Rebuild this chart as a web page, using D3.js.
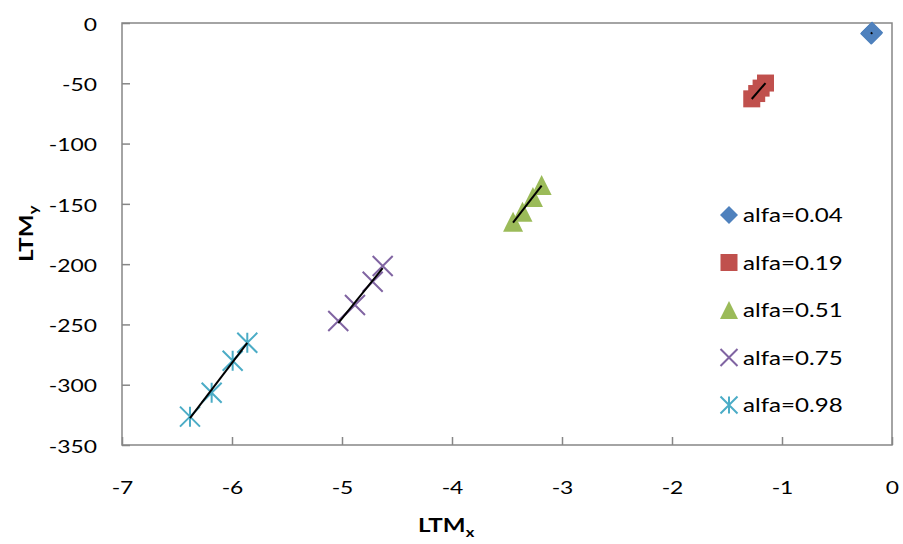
<!DOCTYPE html>
<html>
<head>
<meta charset="utf-8">
<script src="https://cdn.jsdelivr.net/npm/d3@7"></script>
<style>
html,body{margin:0;padding:0;background:#fff;}
svg{display:block;}
text{font-family:Lato,"Open Sans",sans-serif;fill:#000;}
</style>
</head>
<body>
<svg id="chart" width="903" height="544"></svg>
<script>
// ---- data ----
const seriesNames = ["alfa=0.04","alfa=0.19","alfa=0.51","alfa=0.75","alfa=0.98"];
const s004 = [[-0.190,-9.0],[-0.187,-8.6],[-0.184,-8.2],[-0.181,-7.8]];
const s019 = [[-1.275,-62.9],[-1.230,-58.5],[-1.190,-54.0],[-1.150,-49.8]];
const s051 = [[-3.445,-164.8],[-3.359,-156.5],[-3.264,-144.3],[-3.185,-134.4]];
const s075 = [[-5.034,-247.2],[-4.882,-233.9],[-4.721,-214.6],[-4.630,-201.5]];
const s098 = [[-6.382,-326.5],[-6.185,-306.6],[-5.994,-280.1],[-5.861,-265.2]];
const xTicks = [-7,-6,-5,-4,-3,-2,-1,0];
const yTicks = [0,-50,-100,-150,-200,-250,-300,-350];
const colors = ["#4F81BD","#C0504D","#9BBB59","#8064A2","#4BACC6"];
const shapes = ["diamond","square","triangle","x","star"];

const allSeries = [s004,s019,s051,s075,s098];
const SX = 1.27; // horizontal text stretch of the reference

const svg = d3.select("#chart");
const L = 122, R = 892, T = 23, B = 445;
const x = d3.scaleLinear().domain([-7,0]).range([L,R]);
const y = d3.scaleLinear().domain([-350,0]).range([B,T]);

const axisColor = "#868686";
const fmt = d => String(d);

// bottom axis
const gx = svg.append("g").attr("transform",`translate(0,${B})`)
  .call(d3.axisBottom(x).tickValues(xTicks).tickSizeInner(-8).tickSizeOuter(0).tickFormat(fmt));
gx.select(".domain").remove();
gx.selectAll("line").attr("stroke",axisColor).attr("stroke-width",1.5);
gx.selectAll("text").attr("y",49).attr("dy",0).attr("font-size",18)
  .attr("font-family","Lato").attr("transform",`scale(${SX},1)`).style("fill","#000");

// left axis
const gy = svg.append("g").attr("transform",`translate(${L},0)`)
  .call(d3.axisLeft(y).tickValues(yTicks).tickSizeInner(-8).tickSizeOuter(0).tickFormat(fmt));
gy.select(".domain").remove();
gy.selectAll("line").attr("stroke",axisColor).attr("stroke-width",1.5);
gy.selectAll("text").attr("x",-25/SX).attr("dy","0.4em").attr("font-size",18)
  .attr("font-family","Lato").attr("transform",`scale(${SX},1)`).style("fill","#000");

// plot border
svg.append("rect").attr("x",L).attr("y",T).attr("width",R-L).attr("height",B-T)
  .attr("fill","none").attr("stroke",axisColor).attr("stroke-width",1.5);

// marker drawing
function drawMarker(g, shape, color, s){
  const h = s/2;
  if(shape==="diamond"){
    g.append("path").attr("d",`M0,${-h}L${h},0L0,${h}L${-h},0Z`).attr("fill",color);
  } else if(shape==="square"){
    g.append("rect").attr("x",-h).attr("y",-h).attr("width",s).attr("height",s).attr("fill",color);
  } else if(shape==="triangle"){
    g.append("path").attr("d",`M0,${-h}L${h},${h}L${-h},${h}Z`).attr("fill",color);
  } else if(shape==="x"){
    g.append("path").attr("d",`M${-h},${-h}L${h},${h}M${-h},${h}L${h},${-h}`)
      .attr("stroke",color).attr("stroke-width",2).attr("fill","none");
  } else if(shape==="star"){
    g.append("path").attr("d",`M${-h},${-h}L${h},${h}M${-h},${h}L${h},${-h}M0,${-h}L0,${h}`)
      .attr("stroke",color).attr("stroke-width",2).attr("fill","none");
  }
}
const plotSizes = [22,17,20,20,20];

allSeries.forEach((data,i)=>{
  const g = svg.append("g");
  data.forEach(d=>{
    const m = g.append("g").attr("transform",`translate(${x(d[0])},${y(d[1])})`);
    drawMarker(m, shapes[i], colors[i], plotSizes[i]);
  });
});

// linear trendlines
allSeries.forEach((data)=>{
  const mx = d3.mean(data,d=>d[0]), my = d3.mean(data,d=>d[1]);
  const sxy = d3.sum(data,d=>(d[0]-mx)*(d[1]-my));
  const sxx = d3.sum(data,d=>(d[0]-mx)*(d[0]-mx));
  const b = sxx ? sxy/sxx : 0, a = my - b*mx;
  const x0 = d3.min(data,d=>d[0]), x1 = d3.max(data,d=>d[0]);
  svg.append("line").attr("x1",x(x0)).attr("y1",y(a+b*x0)).attr("x2",x(x1)).attr("y2",y(a+b*x1))
    .attr("stroke","#000").attr("stroke-width",2);
});

// legend
const legY0 = 215, legDY = 47.5;
seriesNames.forEach((name,i)=>{
  const cy = legY0 + i*legDY;
  const m = svg.append("g").attr("transform",`translate(729,${cy})`);
  drawMarker(m, shapes[i], colors[i], [18,17,18,17,17][i]);
  svg.append("text").attr("transform",`translate(743,${cy+7}) scale(${SX},1)`)
    .attr("font-size",19).attr("font-family","Lato").text(name);
});

// axis titles
const xt = svg.append("text").attr("transform",`translate(418,532) scale(${SX},1)`)
  .attr("font-size",19).attr("font-weight","bold").attr("font-family","Lato");
xt.append("tspan").text("LTM");
xt.append("tspan").attr("font-size",13).attr("dy",5).text("x");

const yt = svg.append("text").attr("transform",`translate(33,262) rotate(-90) scale(${SX},1)`)
  .attr("font-size",19).attr("font-weight","bold").attr("font-family","Lato");
yt.append("tspan").text("LTM");
yt.append("tspan").attr("font-size",13).attr("dy",5).text("y");
</script>
</body>
</html>
